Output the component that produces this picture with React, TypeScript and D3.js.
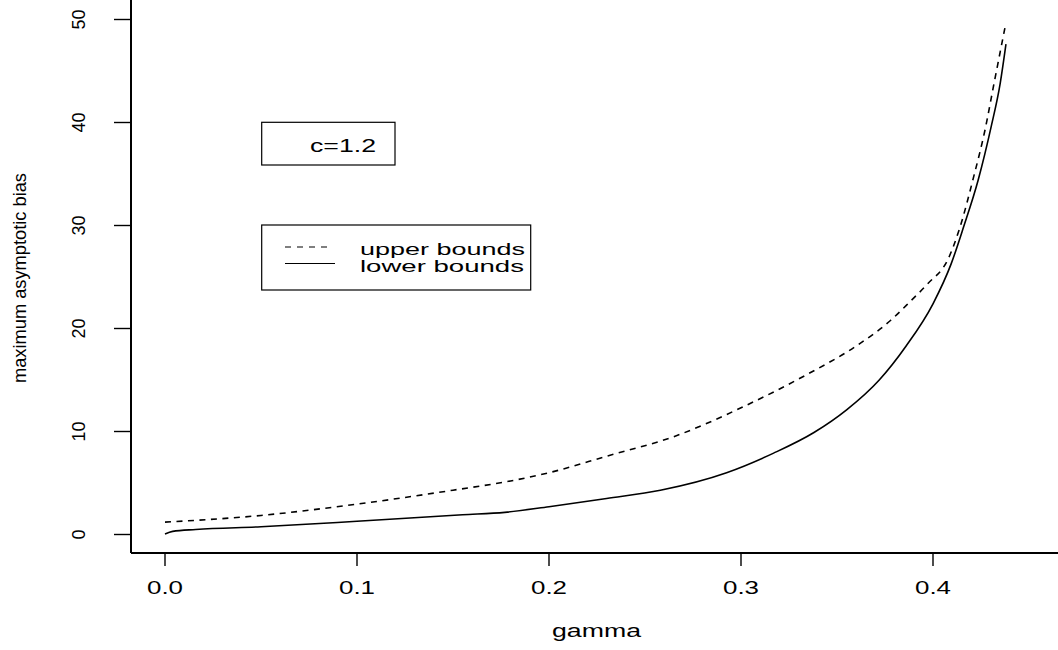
import React from "react";
import * as d3 from "d3";

const xTicks = [0.0, 0.1, 0.2, 0.3, 0.4];
const xTickLabels = ["0.0", "0.1", "0.2", "0.3", "0.4"];
const yTicks = [0, 10, 20, 30, 40, 50];
const yTickLabels = ["0", "10", "20", "30", "40", "50"];

const upperGamma = [0, 0.05, 0.1, 0.15, 0.18, 0.2, 0.23, 0.265, 0.3, 0.334, 0.36, 0.378, 0.388, 0.397, 0.408, 0.414, 0.421, 0.427, 0.432, 0.438];
const upperBias = [1.2, 1.85, 2.95, 4.3, 5.2, 6.0, 7.6, 9.5, 12.3, 15.5, 18.3, 20.8, 22.6, 24.3, 26.8, 29.8, 34.6, 39.2, 44.0, 49.7];

const lowerGamma = [0, 0.004, 0.016, 0.05, 0.1, 0.155, 0.177, 0.2, 0.23, 0.258, 0.2925, 0.317, 0.338, 0.355, 0.372, 0.386, 0.4, 0.4095, 0.416, 0.4235, 0.4303, 0.435, 0.438];
const lowerBias = [0.05, 0.3, 0.49, 0.75, 1.28, 1.92, 2.15, 2.7, 3.5, 4.3, 6.0, 7.9, 9.9, 12.1, 15.0, 18.3, 22.4, 26.3, 29.9, 34.4, 39.6, 43.8, 47.6];

const legendLabels = ["upper bounds", "lower bounds"];
const noteLabel = "c=1.2";
const xLabel = "gamma";
const yLabel = "maximum asymptotic bias";

export default function App() {
  const W = 1058;
  const H = 650;
  const x = d3.scaleLinear().domain([0, 0.4]).range([165, 933]);
  const y = d3.scaleLinear().domain([0, 50]).range([534.5, 19.5]);
  const font = "'Liberation Sans', Arial, Helvetica, sans-serif";

  const line = d3
    .line<[number, number]>()
    .x((d) => x(d[0]))
    .y((d) => y(d[1]))
    .curve(d3.curveMonotoneX);

  const upperPts: [number, number][] = upperGamma.map((g, i) => [g, upperBias[i]]);
  const lowerPts: [number, number][] = lowerGamma.map((g, i) => [g, lowerBias[i]]);

  const axisX = 131;
  const axisY = 553;

  return (
    <svg
      width={W}
      height={H}
      style={{ position: "absolute", left: 0, top: 0, background: "#fff" }}
      fontFamily={font}
    >
      <rect x={0} y={0} width={W} height={H} fill="#fff" />
      {/* axes */}
      <line x1={axisX} y1={0} x2={axisX} y2={axisY} stroke="#000" strokeWidth={2} />
      <line x1={axisX} y1={axisY} x2={W} y2={axisY} stroke="#000" strokeWidth={2} />
      {xTicks.map((t, i) => (
        <g key={"xt" + i}>
          <line x1={x(t)} y1={axisY} x2={x(t)} y2={axisY + 13} stroke="#000" strokeWidth={1.4} />
          <text
            x={x(t)}
            y={594}
            fontSize={18}
            textAnchor="middle"
            textLength={36}
            lengthAdjust="spacingAndGlyphs"
          >
            {xTickLabels[i]}
          </text>
        </g>
      ))}
      {yTicks.map((t, i) => (
        <g key={"yt" + i}>
          <line x1={114} y1={y(t)} x2={axisX} y2={y(t)} stroke="#000" strokeWidth={1.4} />
          <text
            transform={`translate(85,${y(t)}) rotate(-90)`}
            fontSize={18}
            textAnchor="middle"
            textLength={yTickLabels[i].length * 10}
            lengthAdjust="spacingAndGlyphs"
          >
            {yTickLabels[i]}
          </text>
        </g>
      ))}
      <text
        x={552}
        y={637}
        fontSize={17.5}
        textLength={89}
        lengthAdjust="spacingAndGlyphs"
      >
        {xLabel}
      </text>
      <text
        transform={`translate(26,278) rotate(-90)`}
        fontSize={19}
        textAnchor="middle"
        textLength={210}
        lengthAdjust="spacingAndGlyphs"
      >
        {yLabel}
      </text>

      {/* curves */}
      <path d={line(upperPts) || ""} fill="none" stroke="#000" strokeWidth={1.6} strokeDasharray="6,5.5" />
      <path d={line(lowerPts) || ""} fill="none" stroke="#000" strokeWidth={1.6} />

      {/* note box */}
      <rect x={261.7} y={122.3} width={133.3} height={42.7} fill="#fff" stroke="#000" strokeWidth={1.2} />
      <text x={310} y={151.7} fontSize={17.5} textLength={66} lengthAdjust="spacingAndGlyphs">
        {noteLabel}
      </text>

      {/* legend */}
      <rect x={261.7} y={225} width={269} height={65} fill="#fff" stroke="#000" strokeWidth={1.2} />
      <line x1={285} y1={247} x2={333} y2={247} stroke="#000" strokeWidth={1.2} strokeDasharray="6,6" />
      <line x1={285} y1={263.5} x2={335} y2={263.5} stroke="#000" strokeWidth={1.2} />
      <text x={360} y={255} fontSize={16.5} textLength={165} lengthAdjust="spacingAndGlyphs">
        {legendLabels[0]}
      </text>
      <text x={360} y={272} fontSize={16.5} textLength={164} lengthAdjust="spacingAndGlyphs">
        {legendLabels[1]}
      </text>
    </svg>
  );
}
